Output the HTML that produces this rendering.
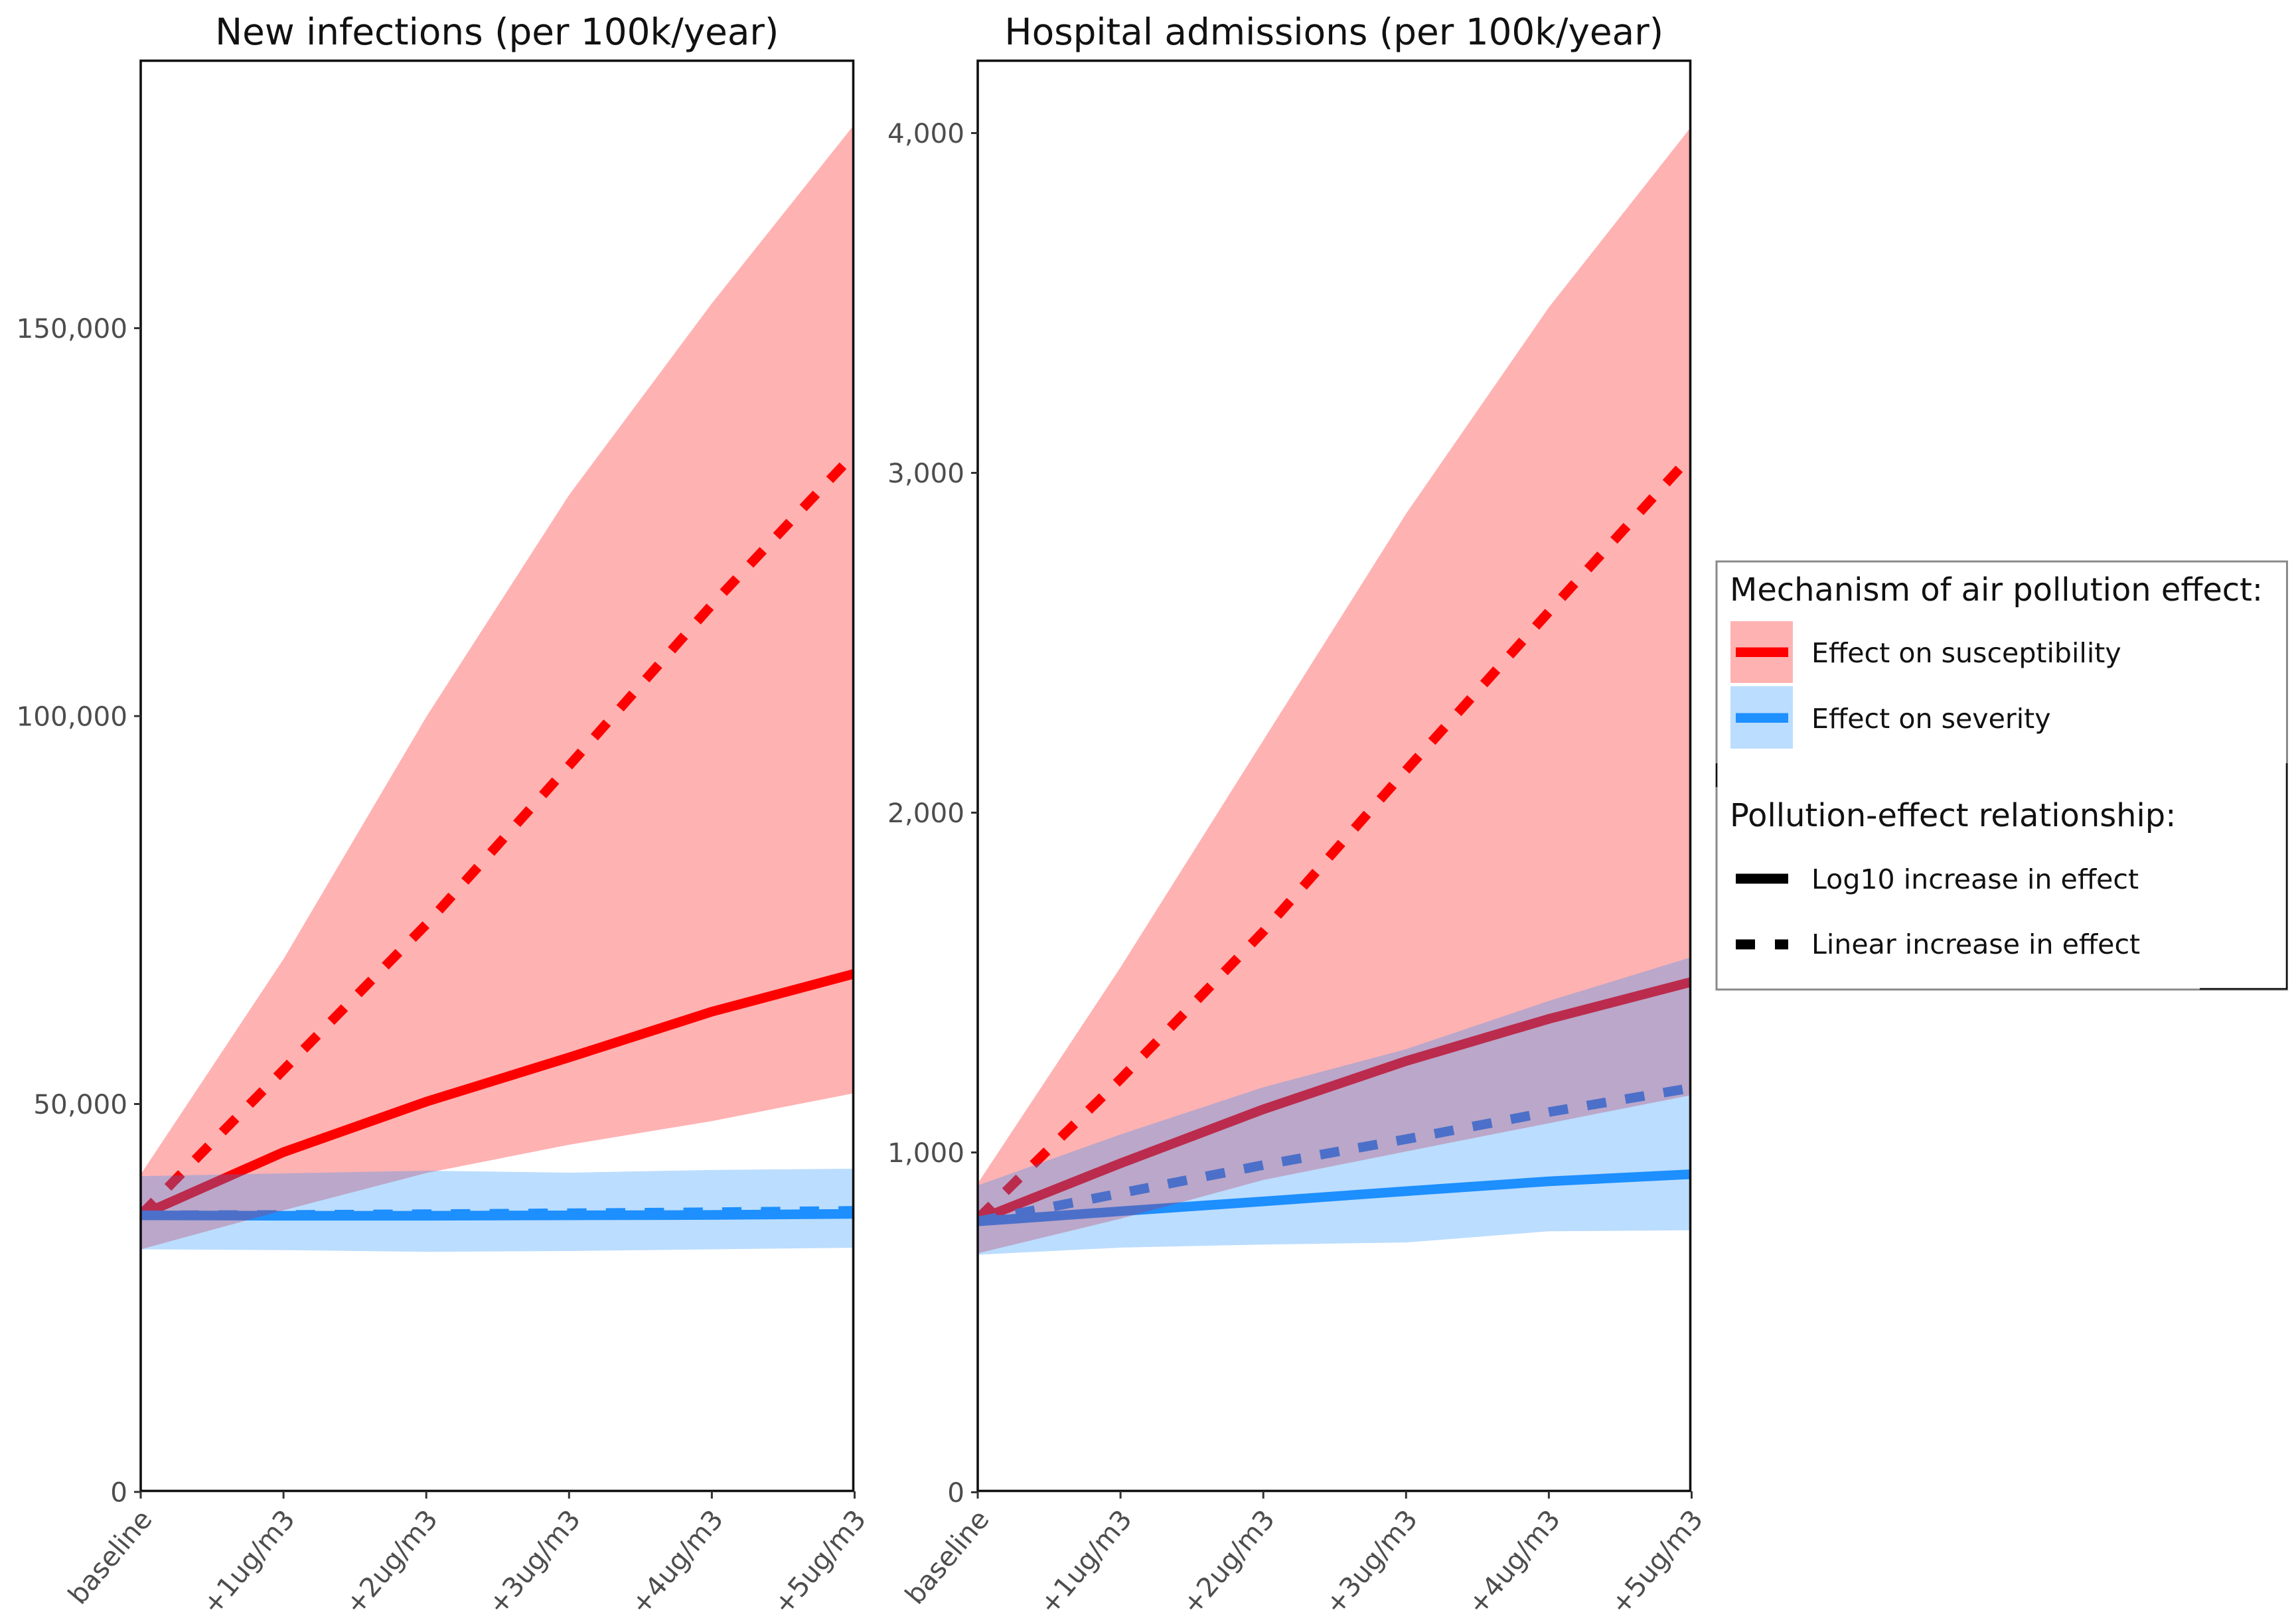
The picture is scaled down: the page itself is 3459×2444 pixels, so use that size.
<!DOCTYPE html>
<html lang="en">
<head>
<meta charset="utf-8">
<title>Air pollution effect on infections and hospital admissions</title>
<style>
  html, body { margin: 0; padding: 0; background: #fff; }
  #figure { display: block; width: 3459px; height: 2444px; font-family: "DejaVu Sans", "Liberation Sans", sans-serif; }
  .panel-title { font-size: 54.8px; fill: #111; text-anchor: middle; }
  .y-tick-label { font-size: 40.5px; fill: #4d4d4d; text-anchor: end; }
  .x-tick-label { font-size: 40.5px; fill: #4d4d4d; text-anchor: end; }
  .legend-title { font-size: 47.9px; fill: #111; }
  .legend-label { font-size: 41.1px; fill: #111; }
</style>
</head>
<body>
<svg id="figure" xmlns="http://www.w3.org/2000/svg" width="3459" height="2444" viewBox="0 0 3459 2444">
  <rect x="0" y="0" width="3459" height="2444" fill="#ffffff"/>
  <defs>
    <clipPath id="clip-infections"><rect x="212" y="91" width="1074" height="2156"/></clipPath>
    <clipPath id="clip-admissions"><rect x="1473" y="91" width="1074" height="2156"/></clipPath>
  </defs>
  <g id="panel-infections"></g>
  <g id="panel-admissions"></g>

  <g>
    <rect x="2586" y="846" width="859.5" height="645" fill="#ffffff" stroke="#8a8a8a" stroke-width="3"/>
    <line x1="2586" y1="1150" x2="2586" y2="1186" stroke="#111" stroke-width="2.5"/>
    <line x1="3445" y1="1150" x2="3445" y2="1491" stroke="#111" stroke-width="2.5"/>
    <line x1="3314" y1="1490" x2="3445" y2="1490" stroke="#111" stroke-width="2.5"/>

    <text class="legend-title" x="2606" y="905">Mechanism of air pollution effect:</text>

    <g>
      <rect x="2607" y="936" width="94" height="93" fill="#ffb2b2"/>
      <rect x="2615" y="975.5" width="79" height="14.5" fill="#ff0000"/>
      <text class="legend-label" x="2729" y="998">Effect on susceptibility</text>
    </g>
    <g>
      <rect x="2607" y="1034" width="94" height="94" fill="#bbddff"/>
      <rect x="2615" y="1074.5" width="79" height="14.5" fill="#1e90ff"/>
      <text class="legend-label" x="2729" y="1097">Effect on severity</text>
    </g>

    <text class="legend-title" x="2606" y="1245">Pollution-effect relationship:</text>

    <g>
      <rect x="2615" y="1316.5" width="79" height="15" fill="#000000"/>
      <text class="legend-label" x="2729" y="1339">Log10 increase in effect</text>
    </g>
    <g>
      <rect x="2615" y="1415.5" width="29" height="15" fill="#000000"/>
      <rect x="2674" y="1415.5" width="20" height="15" fill="#000000"/>
      <text class="legend-label" x="2729" y="1437">Linear increase in effect</text>
    </g>
  </g>
</svg>

<script>
// Shared categories
const categories = ["baseline", "+1ug/m3", "+2ug/m3", "+3ug/m3", "+4ug/m3", "+5ug/m3"];

// New infections panel
const infectionTicks = [0, 50000, 100000, 150000];
const infectionTickLabels = ["0", "50,000", "100,000", "150,000"];
const infSusLog = [35650, 43800, 50300, 56000, 61900, 66800];
const infSusLinear = [35700, 54400, 73150, 93610, 114340, 133870];
const infSevLog = [35650, 35600, 35600, 35650, 35700, 35840];
const infSevLinear = [35650, 35700, 35800, 35920, 36050, 36230];
const infSusUpper = [40930, 68680, 99900, 128500, 153200, 176300];
const infSusLower = [31270, 36300, 41100, 44750, 47800, 51400];
const infSevUpper = [40700, 41060, 41400, 41150, 41500, 41660];
const infSevLower = [31270, 31170, 30950, 31050, 31270, 31480];

// Hospital admissions panel
const admissionTicks = [0, 1000, 2000, 3000, 4000];
const admissionTickLabels = ["0", "1,000", "2,000", "3,000", "4,000"];
const admSusLog = [801, 968, 1127, 1269, 1393, 1502];
const admSusLinear = [805, 1216, 1650, 2125, 2591, 3052];
const admSevLog = [797, 827, 856, 886, 915, 936];
const admSevLinear = [797, 880, 963, 1039, 1119, 1190];
const admSusUpper = [909, 1545, 2213, 2880, 3487, 4020];
const admSusLower = [703, 805, 919, 1003, 1086, 1169];
const admSevUpper = [903, 1053, 1192, 1304, 1446, 1575];
const admSevLower = [699, 720, 729, 735, 768, 771];

const SVG_NS = "http://www.w3.org/2000/svg";
const RED = "#ff0000", BLUE = "#1e90ff";
const DASH = "29.2 29.2";

function xAxis(i, p) {
  return p.x0 + i * (p.x1 - p.x0) / (categories.length - 1);
}
function yAxis(v, p) {
  return p.yZero - v * p.pxPerUnit;
}
function create(parent, tag, attrs) {
  const el = document.createElementNS(SVG_NS, tag);
  for (const k in attrs) el.setAttribute(k, attrs[k]);
  parent.appendChild(el);
  return el;
}
function linePath(values, p) {
  return values.map((v, i) => (i ? "L" : "M") + xAxis(i, p).toFixed(2) + " " + yAxis(v, p).toFixed(2)).join(" ");
}
function ribbonPath(upper, lower, p) {
  const top = upper.map((v, i) => (i ? "L" : "M") + xAxis(i, p).toFixed(2) + " " + yAxis(v, p).toFixed(2)).join(" ");
  const bottom = lower.map((v, i) => i).reverse().map(i => "L" + xAxis(i, p).toFixed(2) + " " + yAxis(lower[i], p).toFixed(2)).join(" ");
  return top + " " + bottom + " Z";
}

function drawPanel(p) {
  const root = document.getElementById(p.id);

  const title = create(root, "text", { class: "panel-title", x: (p.x0 + p.x1) / 2 - 1, y: 67 });
  title.textContent = p.title;
  
  

  const plot = create(root, "g", { "clip-path": "url(#" + p.clip + ")" });
  
  

  const susLog = create(plot, "path", { d: linePath(p.susLog, p), fill: "none", stroke: RED, "stroke-width": 14.5 });
  
  

  const susLinear = create(plot, "path", { d: linePath(p.susLinear, p), fill: "none", stroke: RED, "stroke-width": 14.5, "stroke-dasharray": DASH });
  
  

  const sevLinear = create(plot, "path", { d: linePath(p.sevLinear, p), fill: "none", stroke: BLUE, "stroke-width": 14.5, "stroke-dasharray": DASH });
  
  

  const sevLog = create(plot, "path", { d: linePath(p.sevLog, p), fill: "none", stroke: BLUE, "stroke-width": 14.5 });
  
  

  const susRibbon = create(plot, "path", { d: ribbonPath(p.susUpper, p.susLower, p), fill: RED, "fill-opacity": 0.3 });
  
  

  const sevRibbon = create(plot, "path", { d: ribbonPath(p.sevUpper, p.sevLower, p), fill: BLUE, "fill-opacity": 0.3 });
  
  

  const frame = create(root, "rect", { x: p.x0, y: 91.5, width: p.frameRight - p.x0, height: 2155, fill: "none", stroke: "#111", "stroke-width": 3.6 });
  
  

  p.ticks.forEach((t, i) => {
    const y = yAxis(t, p);
    const tick = create(root, "line", { x1: p.x0 - 10, x2: p.x0, y1: y, y2: y, stroke: "#333", "stroke-width": 3 });
    
    
    const label = create(root, "text", { class: "y-tick-label", x: p.x0 - 20, y: y + 14.5 });
    label.textContent = p.tickLabels[i];
    
    
  });

  categories.forEach((c, i) => {
    const x = xAxis(i, p);
    const tick = create(root, "line", { x1: x, x2: x, y1: 2247, y2: 2258, stroke: "#333", "stroke-width": 3 });
    
    
    const label = create(root, "text", { class: "x-tick-label", transform: "translate(" + (x + 19) + " 2290) rotate(-50)" });
    label.textContent = c;
    
    
  });
}

drawPanel({
  id: "panel-infections", clip: "clip-infections", title: "New infections (per 100k/year)",
  x0: 212, x1: 1287.5, frameRight: 1285.5, yZero: 2248, pxPerUnit: 584.5 / 50000,
  ticks: infectionTicks, tickLabels: infectionTickLabels,
  susLog: infSusLog, susLinear: infSusLinear, sevLog: infSevLog, sevLinear: infSevLinear,
  susUpper: infSusUpper, susLower: infSusLower, sevUpper: infSevUpper, sevLower: infSevLower
});
drawPanel({
  id: "panel-admissions", clip: "clip-admissions", title: "Hospital admissions (per 100k/year)",
  x0: 1473, x1: 2548.5, frameRight: 2546.5, yZero: 2248.5, pxPerUnit: 512 / 1000,
  ticks: admissionTicks, tickLabels: admissionTickLabels,
  susLog: admSusLog, susLinear: admSusLinear, sevLog: admSevLog, sevLinear: admSevLinear,
  susUpper: admSusUpper, susLower: admSusLower, sevUpper: admSevUpper, sevLower: admSevLower
});
</script>
</body>
</html>
